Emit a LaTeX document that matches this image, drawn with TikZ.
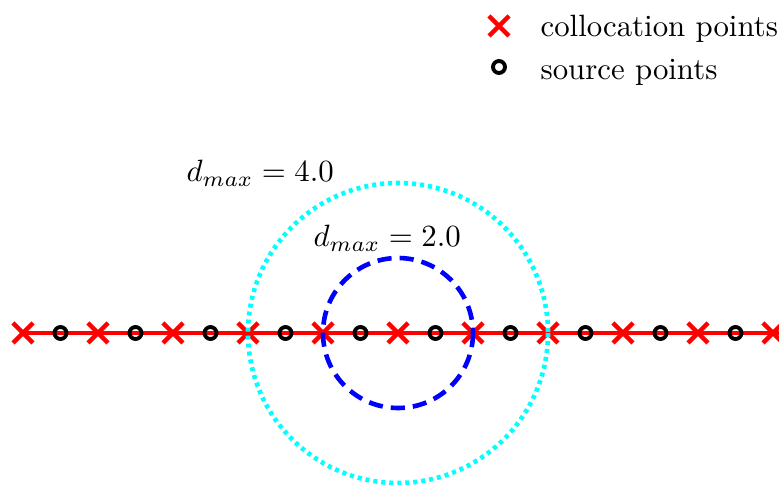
\documentclass[tikz,border=0pt]{standalone}
\definecolor{aqua}{RGB}{0,255,255}
\definecolor{pureblue}{RGB}{0,0,255}
\definecolor{purered}{RGB}{255,0,0}
\begin{document}
\begin{tikzpicture}[x=0.3245pt,y=-0.3245pt,
  crossmark/.style={purered,line width=1.4pt},
  ringmark/.style={black,line width=1.25pt},
  lbl/.style={inner sep=0pt,anchor=base west,font=\fontsize{10}{12}\selectfont}]
\useasboundingbox (0,0) rectangle (779,485);
% baseline
\coordinate (L) at (23,333);
\coordinate (R) at (790,333);
\draw[purered,line width=1pt] (L) -- (R);
% crosses (collocation points)
\foreach \i in {0,...,10}{
  \coordinate (x\i) at ({23+75*\i},333);
  \draw[crossmark] ([shift={(-10,-10)}]x\i) -- ([shift={(10,10)}]x\i)
                   ([shift={(-10,10)}]x\i) -- ([shift={(10,-10)}]x\i);
}
% source points
\foreach \i in {0,...,9}{
  \coordinate (s\i) at ({60.5+75*\i},333);
  \draw[ringmark] (s\i) circle[radius=6];
}
% influence circles
\coordinate (c) at (398,333);
\draw[pureblue,line width=1.5pt,dash pattern=on 4.6pt off 2.6pt] (c) circle[radius=75];
\draw[aqua,line width=1.5pt,dash pattern=on 1.3pt off 1.3pt] (c) circle[radius=150];
% labels
\node[lbl] (d4) at (186,182) {$d_{max} = 4.0$};
\node[lbl] (d2) at (313,247) {$d_{max} = 2.0$};
% legend
\coordinate (lx) at (499,26);
\draw[crossmark] ([shift={(-10,-10)}]lx) -- ([shift={(10,10)}]lx)
                 ([shift={(-10,10)}]lx) -- ([shift={(10,-10)}]lx);
\coordinate (lo) at (499,67);
\draw[ringmark] (lo) circle[radius=6];
\node[lbl] (t1) at (540,37) {collocation points};
\node[lbl] (t2) at (540,80) {source points};
\end{tikzpicture}
\end{document}
